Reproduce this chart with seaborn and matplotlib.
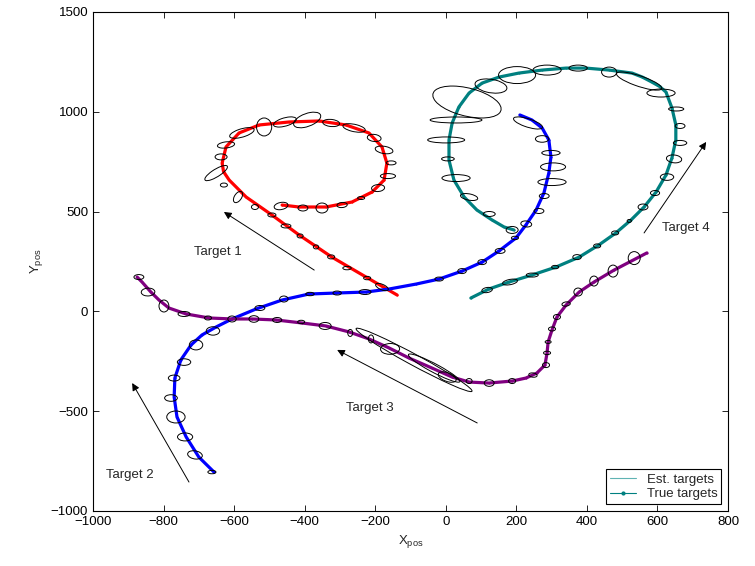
import matplotlib
matplotlib.use("Agg")
import matplotlib.pyplot as plt
from matplotlib.patches import Ellipse
from matplotlib.lines import Line2D
import seaborn as sns

# Track points (data units)
t1_x = [-138, -226, -323, -416, -493, -566, -614, -630, -634, -623, -586, -529, -444,
        -359, -283, -218, -181, -167, -175, -209, -266, -340, -416, -464]
t1_y = [82, 172, 272, 383, 483, 573, 658, 700, 743, 824, 894, 934, 949,
        954, 934, 894, 824, 743, 658, 598, 548, 523, 523, 533]

t2_x = [-657, -700, -736, -762, -770, -768, -751, -722, -691, -651, -606, -538,
        -464, -388, -311, -226, -161, -84, -19, 46, 103, 151, 199, 227, 256,
        278, 292, 298, 292, 273, 244, 210]
t2_y = [-805, -730, -629, -529, -429, -334, -243, -168, -118, -78, -38, 12,
        57, 87, 92, 97, 112, 137, 162, 202, 247, 303, 368, 433, 508,
        593, 693, 774, 859, 919, 959, 984]

t3_x = [570, 477, 420, 378, 341, 315, 301, 290, 287, 281, 258, 227, 188, 122,
        66, 18, -39, -104, -161, -218, -274, -340, -408, -481, -549, -606, -671,
        -736, -785, -813, -836, -861, -875]
t3_y = [293, 207, 147, 97, 32, -28, -93, -153, -208, -269, -309, -334, -349, -359,
        -354, -329, -284, -234, -183, -138, -103, -73, -58, -43, -38, -38, -33,
        -13, 17, 57, 97, 147, 172]

t4_x = [71, 122, 179, 244, 312, 378, 434, 482, 525, 562, 596, 624, 641, 652, 652,
        641, 624, 606, 584, 557, 528, 463, 397, 341, 273, 207, 151, 103, 66, 37, 18,
        9, 9, 23, 52, 88, 131, 165, 193]
t4_y = [67, 112, 147, 182, 222, 272, 333, 393, 458, 523, 598, 683, 769, 859, 934,
        1019, 1099, 1127, 1149, 1174, 1194, 1209, 1219, 1219, 1209, 1194, 1174, 1144,
        1094, 1024, 944, 859, 758, 658, 573, 508, 458, 423, 408]

# covariance ellipses: (x, y, width, height, angle)
t1_ell = [(-515, 924, 43, 90, 0), (-456, 949, 73, 38, 33), (-393, 959, 95, 55, 46),
          (-325, 944, 49, 35, -17), (-260, 919, 68, 35, -25), (-203, 869, 41, 34, -33),
          (-175, 809, 53, 35, -25), (-155, 744, 28, 20, 0), (-164, 678, 43, 25, 0),
          (-192, 618, 38, 34, 33), (-240, 568, 20, 15, 0), (-294, 533, 30, 25, 25),
          (-351, 518, 34, 50, 0), (-405, 518, 28, 30, 0), (-467, 528, 43, 33, 40),
          (-578, 894, 79, 38, 33), (-623, 834, 50, 30, 17), (-637, 774, 34, 30, 0),
          (-651, 693, 95, 30, 51), (-629, 633, 20, 20, 0), (-589, 573, 22, 58, -15),
          (-541, 523, 20, 25, 0), (-493, 483, 23, 20, 0), (-453, 428, 28, 20, 0),
          (-413, 378, 17, 20, 0), (-368, 323, 15, 20, 0), (-325, 273, 20, 20, 0),
          (-280, 217, 24, 17, 0), (-223, 167, 20, 17, 0), (-181, 122, 46, 23, -46)]

t2_ell = [(-663, -805, 23, 17, 0), (-711, -719, 46, 37, -46), (-739, -629, 43, 40, 0),
          (-765, -529, 52, 60, 0), (-779, -434, 36, 33, 0), (-770, -334, 33, 30, 0),
          (-742, -254, 38, 33, 0), (-708, -168, 38, 50, 0), (-660, -98, 38, 42, 0),
          (-606, -38, 24, 30, 0), (-527, 17, 28, 25, 0), (-459, 62, 24, 30, 0),
          (-385, 87, 24, 17, 0), (-308, 92, 24, 20, 0), (-229, 97, 34, 25, 0),
          (-19, 162, 24, 20, 0), (46, 202, 24, 25, 0), (103, 247, 24, 25, 0),
          (154, 303, 28, 25, 0), (196, 368, 20, 17, 0), (228, 438, 28, 33, 46),
          (264, 503, 28, 25, 0), (279, 578, 28, 25, 0), (301, 648, 80, 35, 0),
          (304, 724, 71, 40, 0), (298, 794, 52, 25, 0), (273, 864, 38, 33, 0),
          (233, 944, 95, 38, -33)]

t3_ell = [(534, 267, 34, 65, 0), (474, 202, 28, 60, 0), (420, 152, 24, 50, 0),
          (375, 97, 24, 40, 0), (341, 37, 25, 20, 33), (315, -28, 20, 25, 0),
          (301, -88, 20, 20, 0), (290, -153, 17, 15, 0), (287, -208, 20, 17, 0),
          (284, -269, 20, 25, 0), (247, -319, 25, 20, -33), (188, -349, 20, 25, 0),
          (123, -359, 28, 33, 0), (66, -349, 17, 25, 0), (-90, -243, 455, 46, -44),
          (-33, -284, 200, 36, -44), (4, -329, 63, 37, -46), (-158, -188, 53, 55, -46),
          (-212, -138, 15, 40, 0), (-271, -108, 14, 35, 0), (-342, -73, 34, 35, 0),
          (-410, -53, 20, 17, 0), (-478, -43, 26, 25, 0), (-544, -38, 28, 33, 0),
          (-674, -33, 20, 20, 0), (-742, -13, 34, 25, 0), (-799, 27, 28, 60, 0),
          (-844, 97, 38, 40, -33), (-870, 172, 28, 25, 0)]

t4_ell = [(117, 107, 32, 24, 33), (182, 147, 45, 25, 25), (245, 182, 34, 20, 0),
          (310, 222, 20, 17, 0), (372, 272, 24, 25, 0), (429, 328, 20, 20, 0),
          (480, 393, 20, 20, 0), (520, 453, 12, 15, 0), (559, 523, 28, 30, 0),
          (593, 593, 26, 25, 0), (627, 673, 38, 33, 0), (647, 764, 38, 45, 60),
          (664, 844, 38, 25, 0), (664, 929, 28, 25, 0), (653, 1014, 43, 20, 0),
          (610, 1094, 80, 40, 0), (548, 1154, 150, 48, -33), (463, 1199, 43, 50, 0),
          (375, 1219, 52, 30, 0), (287, 1209, 80, 50, 0), (202, 1184, 105, 85, 0),
          (128, 1129, 95, 65, -25), (60, 1049, 215, 130, -33), (29, 959, 147, 30, 0),
          (1, 859, 105, 30, 0), (6, 764, 36, 20, 0), (29, 668, 80, 35, 0),
          (66, 573, 52, 30, -25), (123, 488, 34, 25, 0), (188, 408, 34, 35, 0)]

colors = ['#ff0000', '#0000ff', '#800080', '#008080']

# direction arrows and labels
labels = ['Target 1', 'Target 2', 'Target 3', 'Target 4']
arrow_tail = [(-373, 207), (-728, -855), (89, -559), (562, 393)]
arrow_head = [(-629, 498), (-889, -359), (-308, -193), (738, 849)]
label_pos = [(-646, 298), (-895, -820), (-215, -484), (681, 418)]

sns.set_theme(style='ticks')
plt.rcParams['font.family'] = ['Liberation Sans', 'DejaVu Sans']
plt.rcParams.update({
    'mathtext.fontset': 'custom',
    'mathtext.rm': 'Liberation Sans',
    'xtick.direction': 'in', 'ytick.direction': 'in',
    'xtick.top': True, 'ytick.right': True,
    'xtick.major.size': 4, 'ytick.major.size': 4,
    'xtick.major.width': 0.6, 'ytick.major.width': 0.6,
    'axes.edgecolor': 'black', 'axes.linewidth': 0.8,
    'xtick.color': 'black', 'ytick.color': 'black',
})

fig = plt.figure(figsize=(7.55, 5.66), dpi=100)
ax = fig.add_axes([0.1232, 0.0972, 0.8411, 0.8816])

tracks = [(t1_x, t1_y), (t2_x, t2_y), (t3_x, t3_y), (t4_x, t4_y)]
for (tx, ty), c in zip(tracks, colors):
    sns.lineplot(x=tx, y=ty, sort=False, estimator=None, color=c, lw=2.3,
                 marker='.', markersize=3, markeredgewidth=0, ax=ax, legend=False)
    sns.lineplot(x=tx, y=ty, sort=False, estimator=None, color=c, lw=0.6,
                 ax=ax, legend=False)

for ells in [t1_ell, t2_ell, t3_ell, t4_ell]:
    for (ex, ey, ew, eh, ea) in ells:
        ax.add_patch(Ellipse((ex, ey), ew, eh, angle=ea, fill=False,
                             ec='black', lw=0.7, zorder=4))

for lab, tail, head, pos in zip(labels, arrow_tail, arrow_head, label_pos):
    ax.annotate('', xy=head, xytext=tail,
                arrowprops=dict(arrowstyle='-|>', color='black', lw=0.7,
                                mutation_scale=11, shrinkA=0, shrinkB=0))
    ax.text(pos[0], pos[1], lab, fontsize=9.5, ha='center', va='center')

ax.set_xlim(-1000, 800)
ax.set_ylim(-1000, 1500)
ax.set_xticks(range(-1000, 801, 200))
ax.set_yticks(range(-1000, 1501, 500))
ax.tick_params(labelsize=9.5)
ax.set_xlabel(r'X$_{\mathrm{pos}}$', fontsize=9.5)
ax.set_ylabel(r'Y$_{\mathrm{pos}}$', fontsize=9.5)

handles = [Line2D([], [], color='#5fb3b3', lw=0.8),
           Line2D([], [], color='#008080', lw=0.8, marker='.', markersize=4)]
leg = ax.legend(handles, ['Est. targets', 'True targets'], loc='lower right',
                fontsize=9.5, fancybox=False, framealpha=1, edgecolor='black',
                borderaxespad=0.5, handlelength=2.0, borderpad=0.3,
                labelspacing=0.2)
leg.get_frame().set_linewidth(0.8)

fig.savefig('out.png', dpi=100)
